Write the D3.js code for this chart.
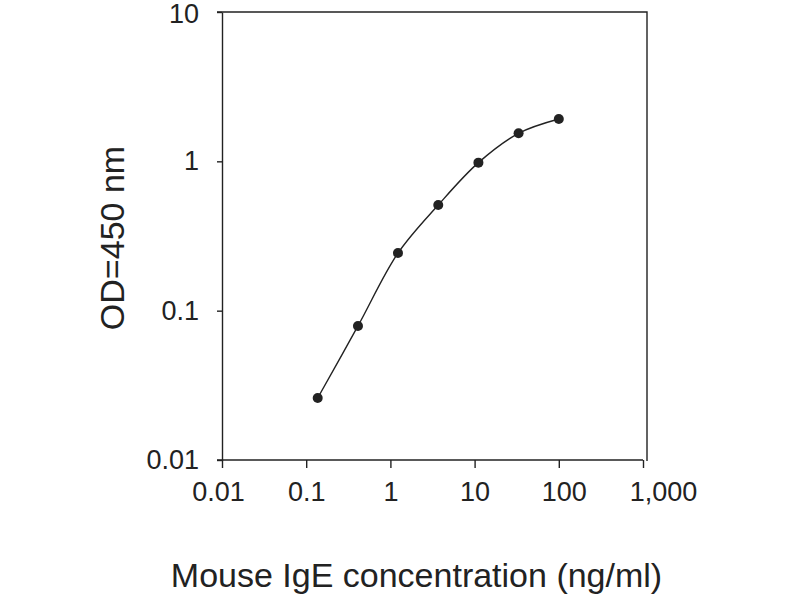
<!DOCTYPE html>
<html>
<head>
<meta charset="utf-8">
<script src="https://d3js.org/d3.v7.min.js"></script>
<style>
  body { margin: 0; background: #fff; }
  text { font-family: "Liberation Sans", Arial, sans-serif; fill: #222; }
</style>
</head>
<body>
<svg width="800" height="600"></svg>
<script>
// Standard curve: 3-fold dilutions of mouse IgE
var concentration = [0.137, 0.412, 1.23, 3.70, 11.1, 33.3, 100];
var od450 = [0.026, 0.079, 0.243, 0.51, 0.98, 1.54, 1.92];

// axis ticks and their labels
var xTicks = [0.01, 0.1, 1, 10, 100, 1000];
var xTickLabels = ["0.01", "0.1", "1", "10", "100", "1,000"];
var yTicks = [0.01, 0.1, 1, 10];
var yTickLabels = ["0.01", "0.1", "1", "10"];

var svg = d3.select("svg");

var x = d3.scaleLog().domain([0.01, 1000]).range([222, 643]);
var y = d3.scaleLog().domain([0.01, 10]).range([460, 12]);

// frame (top and right sides)
svg.append("path")
    .attr("d", "M" + (x.range()[0] - 5) + "," + y.range()[1] +
               "H" + (x.range()[1] + 4) + "V" + (y.range()[0] + 1))
    .attr("fill", "none")
    .attr("stroke", "#222")
    .attr("stroke-width", 1.4);

var xAxis = svg.append("g")
    .attr("transform", "translate(0," + y.range()[0] + ")")
    .call(d3.axisBottom(x)
      .tickValues(xTicks)
      .tickFormat(function(d, i) { return xTickLabels[i]; })
      .tickSize(8)
      .tickPadding(14)
      .tickSizeOuter(0));

var yAxis = svg.append("g")
    .attr("transform", "translate(" + x.range()[0] + ",0)")
    .call(d3.axisLeft(y)
      .tickValues(yTicks)
      .tickFormat(function(d, i) { return yTickLabels[i]; })
      .tickSize(5)
      .tickPadding(18)
      .tickSizeOuter(0));

svg.selectAll(".domain, .tick line").attr("stroke", "#222").attr("stroke-width", 1.4);
svg.selectAll(".tick text").attr("font-size", 27).attr("font-family", null).attr("fill", "#222");
xAxis.select(".domain").attr("d", "M" + (x.range()[0] - 5) + ",0H" + x.range()[1]);

// the original nudges its outer x labels a little
xAxis.selectAll(".tick text").attr("dx", function(d) {
  return d === 1000 ? 20 : d === 100 ? 5 : d === 0.01 ? -4 : 0;
});
yAxis.selectAll(".tick text").filter(function(d) { return d === 10; }).attr("dy", "0.38em");

// curve
var pts = concentration.map(function(c, i) { return [x(c), y(od450[i])]; });

svg.append("path")
    .datum(pts)
    .attr("fill", "none")
    .attr("stroke", "#222")
    .attr("stroke-width", 1.4)
    .attr("d", d3.line().curve(d3.curveCatmullRom.alpha(0.5)));

svg.selectAll("circle")
    .data(pts)
  .enter().append("circle")
    .attr("cx", function(d) { return d[0]; })
    .attr("cy", function(d) { return d[1]; })
    .attr("r", 5)
    .attr("fill", "#222");

// axis titles
svg.append("text")
    .attr("x", (x.range()[0] + x.range()[1]) / 2 - 16)
    .attr("y", 587)
    .attr("text-anchor", "middle")
    .attr("font-size", 34)
    .text("Mouse IgE concentration (ng/ml)");

svg.append("text")
    .attr("transform", "translate(124," + 238 + ") rotate(-90)")
    .attr("text-anchor", "middle")
    .attr("font-size", 34)
    .text("OD=450 nm");
</script>
</body>
</html>
